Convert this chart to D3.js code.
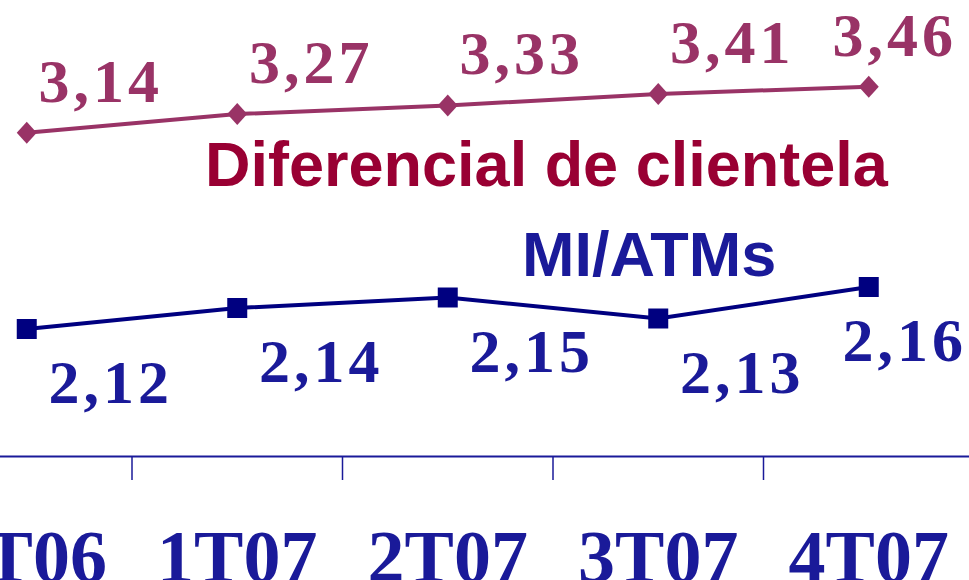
<!DOCTYPE html>
<html>
<head>
<meta charset="utf-8">
<script src="https://cdn.jsdelivr.net/npm/d3@7"></script>
<style>
    html, body { margin: 0; padding: 0; background: #fff; overflow: hidden; }
    .valLabel { font-family: "Liberation Serif", "Times New Roman", serif; font-weight: bold; font-size: 62px; letter-spacing: 4px; }
    .catLabel { font-family: "Liberation Serif", "Times New Roman", serif; font-weight: bold; font-size: 74px; fill: #1a1a99; }
    .seriesName { font-family: "Liberation Sans", Arial, sans-serif; font-weight: bold; font-size: 63px; }
</style>
</head>
<body>
<script>
(function(){

    //chart data
    var categories = ["4T06", "1T07", "2T07", "3T07", "4T07"];
    var diferencial = [3.14, 3.27, 3.33, 3.41, 3.46]; //Diferencial de clientela
    var miAtms = [2.12, 2.14, 2.15, 2.13, 2.16]; //MI/ATMs

    var width = 969,
        height = 580,
        axisY = 456.5;

    var svg = d3.select("body")
        .append("svg")
        .attr("width", width)
        .attr("height", height);

    //category scale, ticks sit between bands
    var x = d3.scaleBand()
        .domain(categories)
        .range([-78.5, 974]);

    //each series has its own vertical scale
    var yTop = d3.scaleLinear()
        .domain([3.0, 3.5])
        .range([153, 81]);

    var yBottom = d3.scaleLinear()
        .domain([2.10, 2.20])
        .range([350, 245]);

    function cx(i){
        return x(categories[i]) + x.bandwidth() / 2;
    }

    function fmt(v){
        return d3.format(".2f")(v).replace(".", ",");
    }

    //axis line and ticks
    svg.append("line")
        .attr("x1", 0)
        .attr("x2", width)
        .attr("y1", axisY)
        .attr("y2", axisY)
        .attr("stroke", "#1a1a99")
        .attr("stroke-width", 2);

    svg.selectAll(".tick")
        .data(categories.slice(1))
        .enter()
        .append("line")
        .attr("class", "tick")
        .attr("x1", function(d){ return x(d); })
        .attr("x2", function(d){ return x(d); })
        .attr("y1", axisY)
        .attr("y2", 480)
        .attr("stroke", "#1a1a99")
        .attr("stroke-width", 1.5);

    svg.selectAll(".catLabel")
        .data(categories)
        .enter()
        .append("text")
        .attr("class", "catLabel")
        .attr("x", function(d, i){ return cx(i); })
        .attr("y", 582)
        .attr("text-anchor", "middle")
        .text(function(d){ return d; });

    //draw one series: line, markers, value labels
    function drawSeries(values, yScale, color, labelColor, marker, dx, dy, maxRight){
        var line = d3.line()
            .x(function(d, i){ return cx(i); })
            .y(function(d){ return yScale(d); });

        svg.append("path")
            .datum(values)
            .attr("d", line)
            .attr("fill", "none")
            .attr("stroke", color)
            .attr("stroke-width", 4);

        svg.selectAll(null)
            .data(values)
            .enter()
            .append("path")
            .attr("d", marker)
            .attr("transform", function(d, i){
                return "translate(" + cx(i) + "," + yScale(d) + ")";
            })
            .attr("fill", color);

        svg.selectAll(null)
            .data(values)
            .enter()
            .append("text")
            .attr("class", "valLabel")
            .attr("fill", labelColor)
            .attr("text-anchor", "middle")
            .attr("y", function(d){ return yScale(d) + dy; })
            .text(fmt)
            .attr("x", function(d, i){
                var w = this.getComputedTextLength();
                var c = cx(i) + dx;
                return Math.min(c, maxRight - w / 2);
            });
    }

    var diamond = "M0,-11L10,0L0,11L-10,0Z";
    var square = "M-10,-10H10V10H-10Z";

    drawSeries(diferencial, yTop, "#993366", "#993366", diamond, 74, -31, 957);
    drawSeries(miAtms, yBottom, "#000080", "#1a1a99", square, 84, 74, 967);

    //series names
    svg.append("text")
        .attr("class", "seriesName")
        .attr("x", 205)
        .attr("y", 186)
        .attr("fill", "#990033")
        .text("Diferencial de clientela");

    svg.append("text")
        .attr("class", "seriesName")
        .attr("x", 522)
        .attr("y", 276)
        .attr("fill", "#1a1a99")
        .text("MI/ATMs");

})();
</script>
</body>
</html>
